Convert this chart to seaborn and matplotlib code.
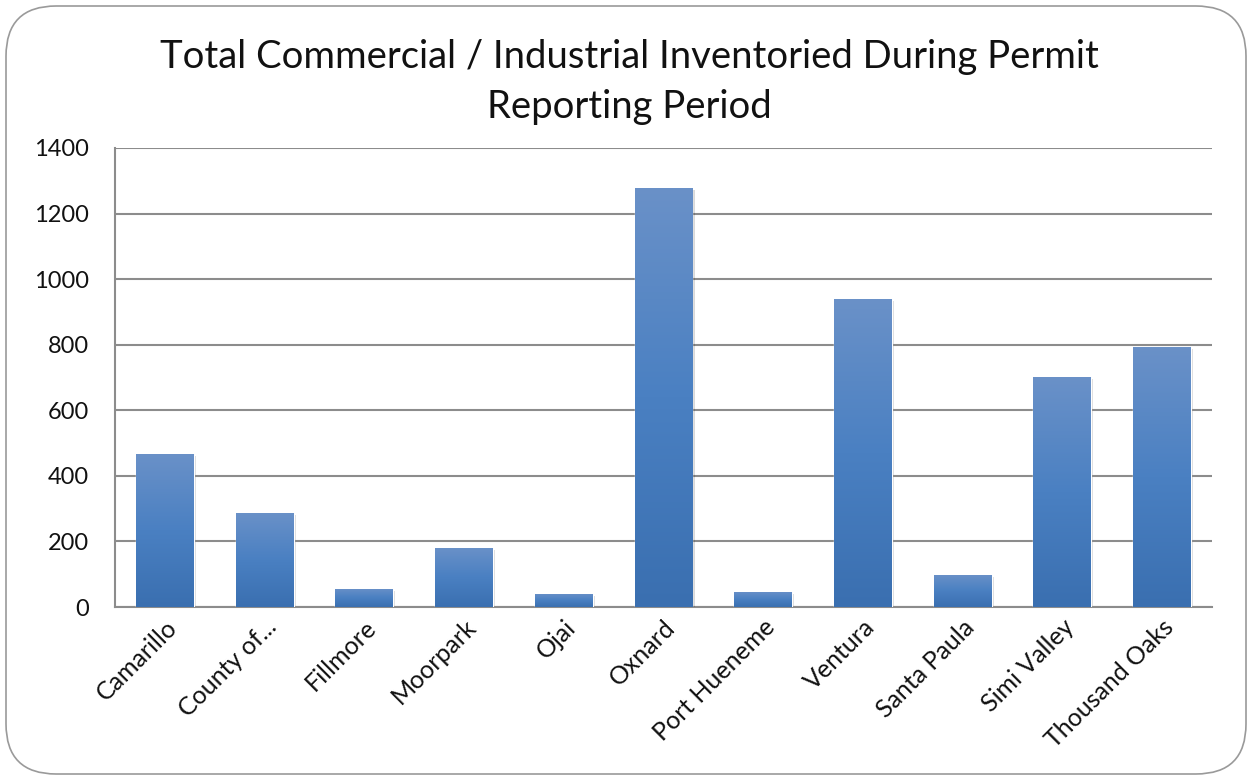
import numpy as np
import pandas as pd
import matplotlib
matplotlib.use('Agg')
import matplotlib.pyplot as plt
from matplotlib.patches import FancyBboxPatch
import matplotlib.patheffects as pe
from matplotlib.colors import LinearSegmentedColormap
import seaborn as sns

# data
cities = ['Camarillo', 'County of...', 'Fillmore', 'Moorpark', 'Ojai', 'Oxnard',
          'Port Hueneme', 'Ventura', 'Santa Paula', 'Simi Valley', 'Thousand Oaks']
inventoried = [467, 287, 55, 180, 40, 1278, 46, 939, 98, 701, 793]
y_ticks = [0, 200, 400, 600, 800, 1000, 1200, 1400]

df = pd.DataFrame({'city': cities, 'count': inventoried})

sns.set_style("white")
plt.rcParams['font.family'] = ['Lato', 'DejaVu Sans']

fig = plt.figure(figsize=(12.52, 7.80), dpi=100)
ax = fig.add_axes([115 / 1252, 1 - 607 / 780, (1212 - 115) / 1252, (607 - 148) / 780])

sns.barplot(data=df, x='city', y='count', color='#4a7ebb', width=0.58,
            saturation=1, ax=ax, zorder=3)

# vertical gradient on each bar, light at top and dark at bottom
grad = LinearSegmentedColormap.from_list('bar', ['#3a6fb0', '#4a80c2', '#6a91c8'])
for patch in ax.patches:
    x0, y0 = patch.get_x(), patch.get_y()
    w, h = patch.get_width(), patch.get_height()
    patch.set_path_effects([pe.SimplePatchShadow(offset=(1.5, -1.5), shadow_rgbFace='#000000',
                                                 alpha=0.15), pe.Normal()])
    img = ax.imshow(np.linspace(0, 1, 256).reshape(-1, 1), cmap=grad, aspect='auto',
                    origin='lower', extent=(x0, x0 + w, y0, y0 + h), zorder=4)
    img.set_clip_path(patch)

ax.set_xlim(-0.5, len(cities) - 0.5)
ax.set_ylim(0, 1400)
ax.set_yticks(y_ticks)
ax.set_yticklabels([str(v) for v in y_ticks])
ax.yaxis.grid(True, color='#8c8c8c', linewidth=1.5, zorder=0)
ax.set_axisbelow(True)
ax.set_xlabel('')
ax.set_ylabel('')
ax.tick_params(axis='y', length=0, pad=19, labelsize=17, labelcolor='#111111')
ax.tick_params(axis='x', length=0, pad=6, labelsize=18, labelcolor='#111111')
for lbl in ax.get_xticklabels():
    lbl.set_rotation(45)
    lbl.set_ha('right')
    lbl.set_rotation_mode('anchor')
for side in ['top', 'right']:
    ax.spines[side].set_visible(False)
for side in ['left', 'bottom']:
    ax.spines[side].set_color('#8c8c8c')
    ax.spines[side].set_linewidth(1.5)

fig.text(0.503, 1 - 82 / 780,
         'Total Commercial / Industrial Inventoried During Permit\nReporting Period',
         ha='center', va='center', fontsize=27.5, color='#111111', linespacing=1.45)

# rounded outer frame
frame = FancyBboxPatch((6 / 1252, 6 / 780), 1240 / 1252, 768 / 780,
                       boxstyle='round,pad=0,rounding_size=0.04',
                       transform=fig.transFigure, fill=False,
                       edgecolor='#9a9a9a', linewidth=1.2, mutation_aspect=1252 / 780)
fig.patches.append(frame)

fig.savefig('out.png', dpi=100)
